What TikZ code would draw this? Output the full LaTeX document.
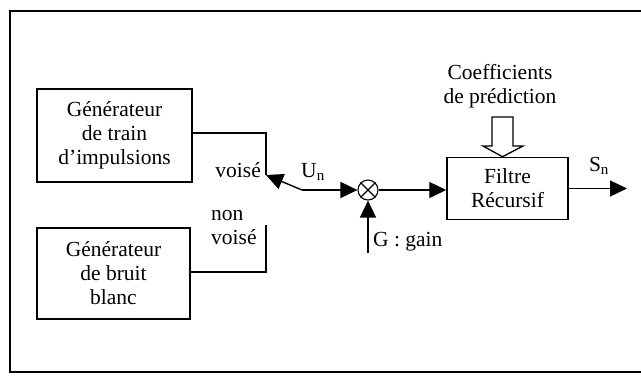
\documentclass[tikz,border=0pt]{standalone}
\usepackage{fontspec}
\setmainfont{Liberation Serif}
\usepackage{tikz}
\usetikzlibrary{arrows.meta}

\tikzset{
    blockbox/.style={draw, line width=1.5pt, align=center, inner sep=0pt,
        font=\fontsize{21.5}{24}\selectfont},
    lbl/.style={font=\fontsize{21.5}{24}\selectfont, inner sep=1pt},
    wire/.style={line width=1.4pt},
    flow/.style={line width=1.4pt, -{Triangle[length=17pt,width=16pt]}}
}

\begin{document}
\begin{tikzpicture}[x=1pt, y=-1pt]
        \useasboundingbox (0,0) rectangle (641,381);
        % outer frame (right side open)
        \draw[line width=1.6pt] (641,11) -- (10,11) -- (10,372) -- (641,372);

        % generators
        \node[blockbox, minimum width=155pt, minimum height=93pt] (gentrain) at (114.5,135.5)
            {Générateur\\de train\\d'impulsions};
        \node[blockbox, minimum width=153pt, minimum height=91pt] (genbruit) at (113.5,273.5)
            {Générateur\\de bruit\\blanc};

        % switch contacts
        \coordinate (cvoise) at (266,175);
        \coordinate (cnonvoise) at (266,225);
        \coordinate (pivot) at (302,190);
        \draw[wire] (gentrain.east |- 0,133) -| (cvoise);
        \draw[wire] (genbruit.east |- 0,272) -| (cnonvoise);
        \node[lbl, anchor=east] (voise) at (262,170) {voisé};
        \node[lbl, anchor=west, align=left] (nonvoise) at (210,228) {non\\voisé};
        \draw[flow] (pivot) -- (cvoise);

        % multiplier
        \node[circle, draw, line width=1.1pt, minimum size=20pt, inner sep=0pt] (mult) at (368,190) {};
        \draw[line width=1.1pt] (mult.north east) -- (mult.south west);
        \draw[line width=1.1pt] (mult.north west) -- (mult.south east);
        \draw[flow] (pivot) -- (mult.west);
        \node[lbl] (un) at (313,172) {U\textsubscript{n}};
        \coordinate (gin) at (368,253);
        \draw[flow] (gin) -- (mult.south);
        \node[lbl, anchor=west] (gain) at (372,242) {G : gain};

        % filter
        \node[blockbox, minimum width=121pt, minimum height=62pt] (filtre) at (507.5,188.5)
            {Filtre\\Récursif};
        \draw[flow] (mult.east) -- (filtre.west |- mult.east);
        \coordinate (sout) at (627,188.5);
        \draw[flow] (filtre.east) -- (sout);
        \node[lbl] (sn) at (599,166) {S\textsubscript{n}};

        % prediction coefficients
        \node[lbl, align=center] (coef) at (500,86) {Coefficients\\de prédiction};
        \draw[line width=1.3pt, fill=white] (492,117) -- (513,117) -- (513,146) -- (523,146)
            -- (filtre.north -| 502.5,0) -- (483,146) -- (492,146) -- cycle;
    \end{tikzpicture}
\end{document}
